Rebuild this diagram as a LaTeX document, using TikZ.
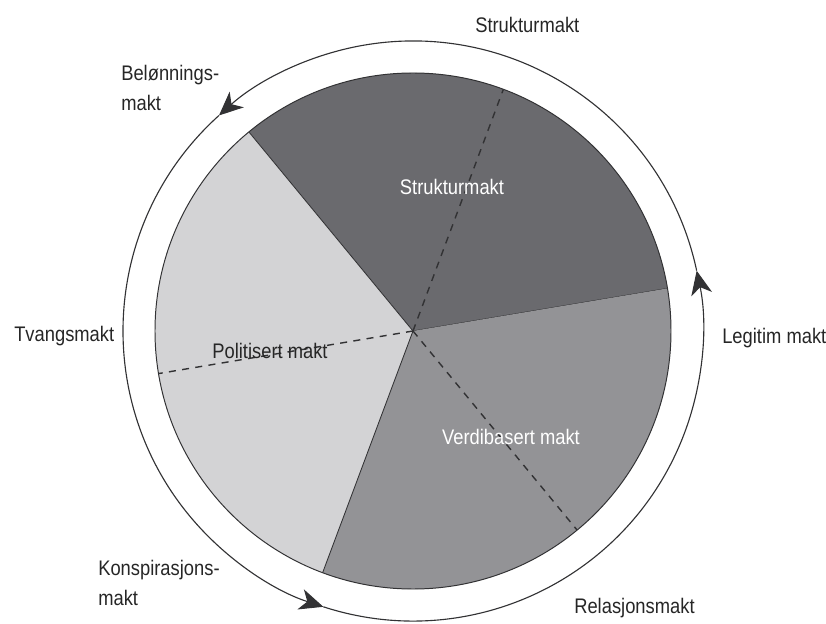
\documentclass[tikz,border=0pt]{standalone}
\usepackage{fontspec}
\setmainfont{Liberation Sans}[FakeStretch=0.87]
\usetikzlibrary{arrows.meta}
\definecolor{darkwedge}{RGB}{106,106,110}
\definecolor{midwedge}{RGB}{147,147,150}
\definecolor{lightwedge}{RGB}{211,211,213}
\definecolor{edge}{RGB}{50,50,52}

\begin{document}
\begin{tikzpicture}[x=0.025cm, y=0.025cm, font=\fontsize{15}{21.5}\selectfont,
        lbl/.style={inner sep=0pt, align=left, text=black!85},
        ring/.style={draw=edge, line width=0.8pt, -{Stealth[length=17pt, width=15pt, inset=5pt]}}]
            \useasboundingbox (-413,-292) rectangle (413,331);

            \foreach \a/\b/\c in {9.5/129.5/darkwedge, 129.5/249.5/lightwedge, 249.5/369.5/midwedge} {
                \fill[\c] (0,0) -- (\a:258) arc[start angle=\a, end angle=\b, radius=258] -- cycle;
                \draw[edge, line width=0.6pt] (0,0) -- (\a:258);
            }
            \draw[edge, line width=0.7pt] (0,0) circle[radius=258];

            \foreach \a in {69.5,189.5,309.5} {
                \draw[edge, line width=1pt, dash pattern=on 5pt off 4.5pt] (0,0) -- (\a:258);
            }

            \foreach \a/\b in {12/132,132/252,252/372} {
                \draw[ring] (\a:290) arc[start angle=\a, end angle=\b, radius=290];
            }

            \node[lbl, anchor=base west] (struktur) at (62,298) {Strukturmakt};
            \node[lbl, anchor=north west] (belonning) at (-292,266) {Belønnings-\\makt};
            \node[lbl, anchor=base west] (tvang) at (-399,-11) {Tvangsmakt};
            \node[lbl, anchor=north west] (konspirasjon) at (-315,-229) {Konspirasjons-\\makt};
            \node[lbl, anchor=base west] (relasjon) at (161,-282) {Relasjonsmakt};
            \node[lbl, anchor=base west] (legitim) at (309,-12) {Legitim makt};

            \node[inner sep=0pt, text=white] (istruktur) at (39,144) {Strukturmakt};
            \node[inner sep=0pt, text=white] (verdi) at (98,-106) {Verdibasert makt};
            \node[inner sep=0pt, text=black!85] (politisert) at (-143,-20) {Politisert makt};
        \end{tikzpicture}
\end{document}
